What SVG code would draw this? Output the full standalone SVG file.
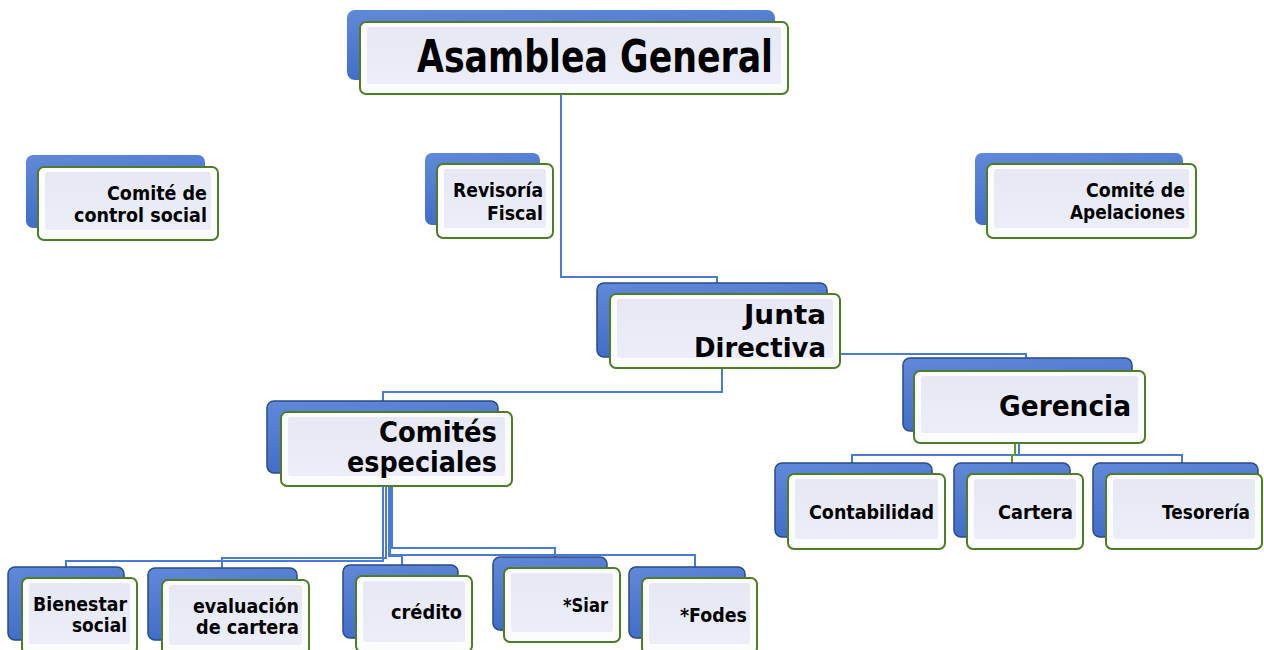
<svg xmlns="http://www.w3.org/2000/svg" width="1264" height="650" viewBox="0 0 1264 650">
<defs>
<linearGradient id="gb" x1="0" y1="0" x2="0.3" y2="1">
<stop offset="0" stop-color="#6189d8"/>
<stop offset="1" stop-color="#3f6cc8"/>
</linearGradient>
<linearGradient id="gi" x1="0" y1="0" x2="0" y2="1">
<stop offset="0" stop-color="#e6e9f4"/>
<stop offset="1" stop-color="#ebeef8"/>
</linearGradient>
<style>
.back{fill:url(#gb)}
.back2{fill:url(#gb);stroke:#2b4a86;stroke-width:1.5}
.front{fill:#fbfcfe;stroke:#4f7d27;stroke-width:2}
.inner{fill:url(#gi)}
.t{font-family:"DejaVu Sans","Liberation Sans",sans-serif;font-weight:bold;fill:#000;text-anchor:end}
.conn{fill:none;stroke:#4a7bd4;stroke-width:2}
.connG{fill:none;stroke:#5a9a2a;stroke-width:2}
</style>
</defs>
<rect width="1264" height="650" fill="#ffffff"/>
<g id="connectors">
<path class="conn" d="M561,94 V277 H717 V283"/>
<path class="conn" d="M840,354 H1026 V358"/>
<path class="conn" d="M722,368 V392 H383 V401"/>
<path class="conn" d="M1019,443 V455 H852 V463"/>
<path class="conn" d="M1019,455 H1182 V463"/>
<path class="connG" d="M1015,443 V455 H1012 V474"/>
<path class="conn" d="M383,486 V561 H66 V567"/>
<path class="conn" d="M386,486 V558 H222 V568"/>
<path class="conn" d="M389,486 V556 H402 V565"/>
<path class="conn" d="M392,486 V548 H555 V557"/>
<path class="conn" d="M390,486 V555 H695 V567"/>
</g>
<g id="asamblea">
<rect class="back" x="347" y="10" width="428" height="70" rx="8"/>
<rect class="front" x="360" y="22" width="428" height="72" rx="6"/>
<rect class="inner" x="367" y="27" width="414" height="57" rx="3"/>
<text class="t" x="773" y="72" font-size="44" textLength="356" lengthAdjust="spacingAndGlyphs">Asamblea General</text>
</g>
<g id="control-social">
<rect class="back" x="26" y="155" width="179" height="73" rx="7"/>
<rect class="front" x="38" y="167" width="180" height="73" rx="6"/>
<rect class="inner" x="45" y="172" width="166" height="58" rx="3"/>
<text class="t" x="207" y="200" font-size="19.5" textLength="100" lengthAdjust="spacingAndGlyphs">Comité de</text>
<text class="t" x="207" y="222" font-size="19.5" textLength="133" lengthAdjust="spacingAndGlyphs">control social</text>
</g>
<g id="revisoria">
<rect class="back" x="425" y="153" width="115" height="72" rx="7"/>
<rect class="front" x="437" y="164" width="116" height="74" rx="6"/>
<rect class="inner" x="444" y="169" width="102" height="59" rx="3"/>
<text class="t" x="543" y="197" font-size="19.5" textLength="90" lengthAdjust="spacingAndGlyphs">Revisoría</text>
<text class="t" x="543" y="220" font-size="19.5" textLength="56" lengthAdjust="spacingAndGlyphs">Fiscal</text>
</g>
<g id="apelaciones">
<rect class="back" x="975" y="153" width="208" height="72" rx="7"/>
<rect class="front" x="987" y="164" width="209" height="74" rx="6"/>
<rect class="inner" x="994" y="169" width="195" height="59" rx="3"/>
<text class="t" x="1185" y="197" font-size="19.5" textLength="99" lengthAdjust="spacingAndGlyphs">Comité de</text>
<text class="t" x="1185" y="219" font-size="19.5" textLength="115" lengthAdjust="spacingAndGlyphs">Apelaciones</text>
</g>
<g id="junta">
<rect class="back2" x="597" y="283" width="230" height="74" rx="7"/>
<rect class="front" x="610" y="294" width="230" height="74" rx="6"/>
<rect class="inner" x="617" y="299" width="216" height="59" rx="3"/>
<text class="t" x="826" y="324" font-size="27" textLength="82" lengthAdjust="spacingAndGlyphs">Junta</text>
<text class="t" x="826" y="357" font-size="27" textLength="132" lengthAdjust="spacingAndGlyphs">Directiva</text>
</g>
<g id="comites">
<rect class="back2" x="267" y="401" width="231" height="72" rx="7"/>
<rect class="front" x="281" y="412" width="231" height="74" rx="6"/>
<rect class="inner" x="288" y="417" width="217" height="59" rx="3"/>
<text class="t" x="497" y="442" font-size="28" textLength="118" lengthAdjust="spacingAndGlyphs">Comités</text>
<text class="t" x="497" y="472" font-size="28" textLength="150" lengthAdjust="spacingAndGlyphs">especiales</text>
</g>
<g id="gerencia">
<rect class="back2" x="903" y="358" width="229" height="73" rx="7"/>
<rect class="front" x="914" y="371" width="231" height="72" rx="6"/>
<rect class="inner" x="921" y="376" width="217" height="57" rx="3"/>
<text class="t" x="1131" y="416" font-size="29" textLength="132" lengthAdjust="spacingAndGlyphs">Gerencia</text>
</g>
<g id="contabilidad">
<rect class="back2" x="775" y="463" width="157" height="74" rx="7"/>
<rect class="front" x="788" y="474" width="157" height="75" rx="6"/>
<rect class="inner" x="795" y="479" width="143" height="60" rx="3"/>
<text class="t" x="934" y="519" font-size="20" textLength="125" lengthAdjust="spacingAndGlyphs">Contabilidad</text>
</g>
<g id="cartera">
<rect class="back2" x="954" y="463" width="116" height="74" rx="7"/>
<rect class="front" x="967" y="474" width="116" height="75" rx="6"/>
<rect class="inner" x="974" y="479" width="102" height="60" rx="3"/>
<text class="t" x="1073" y="519" font-size="20" textLength="75" lengthAdjust="spacingAndGlyphs">Cartera</text>
</g>
<g id="tesoreria">
<rect class="back2" x="1093" y="463" width="165" height="74" rx="7"/>
<rect class="front" x="1106" y="474" width="156" height="75" rx="6"/>
<rect class="inner" x="1113" y="479" width="142" height="60" rx="3"/>
<text class="t" x="1250" y="519" font-size="19.5" textLength="88" lengthAdjust="spacingAndGlyphs">Tesorería</text>
</g>
<g id="bienestar">
<rect class="back2" x="8" y="567" width="116" height="73" rx="7"/>
<rect class="front" x="22" y="578" width="115" height="76" rx="6"/>
<rect class="inner" x="29" y="583" width="101" height="61" rx="3"/>
<text class="t" x="127" y="611" font-size="19.5" textLength="94" lengthAdjust="spacingAndGlyphs">Bienestar</text>
<text class="t" x="127" y="632" font-size="19.5" textLength="55" lengthAdjust="spacingAndGlyphs">social</text>
</g>
<g id="evaluacion">
<rect class="back2" x="148" y="568" width="149" height="72" rx="7"/>
<rect class="front" x="162" y="580" width="147" height="75" rx="6"/>
<rect class="inner" x="169" y="585" width="133" height="60" rx="3"/>
<text class="t" x="299" y="613" font-size="19.5" textLength="106" lengthAdjust="spacingAndGlyphs">evaluación</text>
<text class="t" x="299" y="634" font-size="19.5" textLength="103" lengthAdjust="spacingAndGlyphs">de cartera</text>
</g>
<g id="credito">
<rect class="back2" x="343" y="565" width="115" height="73" rx="7"/>
<rect class="front" x="356" y="576" width="116" height="76" rx="6"/>
<rect class="inner" x="363" y="581" width="102" height="61" rx="3"/>
<text class="t" x="462" y="619" font-size="19.5" textLength="71" lengthAdjust="spacingAndGlyphs">crédito</text>
</g>
<g id="siar">
<rect class="back2" x="493" y="557" width="114" height="73" rx="7"/>
<rect class="front" x="504" y="568" width="116" height="74" rx="6"/>
<rect class="inner" x="511" y="573" width="102" height="59" rx="3"/>
<text class="t" x="608" y="612" font-size="19.5" textLength="45" lengthAdjust="spacingAndGlyphs">*Siar</text>
</g>
<g id="fodes">
<rect class="back2" x="629" y="567" width="116" height="71" rx="7"/>
<rect class="front" x="642" y="578" width="115" height="76" rx="6"/>
<rect class="inner" x="649" y="583" width="101" height="61" rx="3"/>
<text class="t" x="747" y="622" font-size="19.5" textLength="67" lengthAdjust="spacingAndGlyphs">*Fodes</text>
</g>
</svg>
